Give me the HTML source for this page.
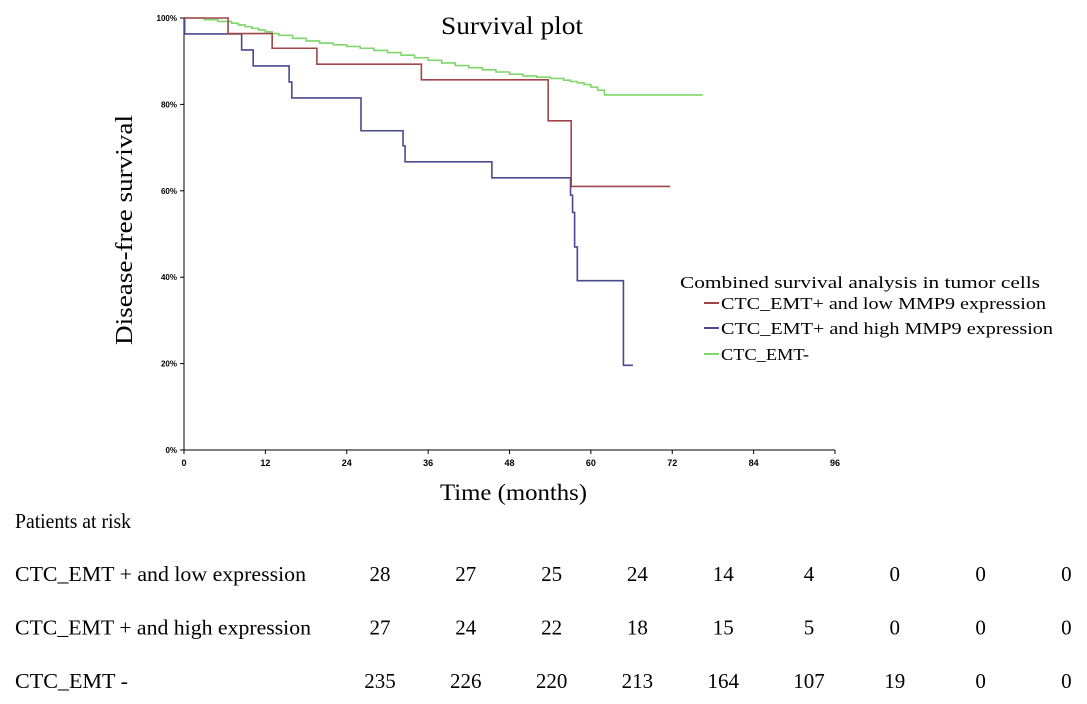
<!DOCTYPE html>
<html><head><meta charset="utf-8"><style>
body{margin:0;background:#fff;width:1087px;height:704px;overflow:hidden;font-family:"Liberation Serif",serif}
svg{position:absolute;left:0;top:0}
</style></head><body>
<svg width="1087" height="704">
<g id="axes"></g>
<g id="curves"></g>
<text x="441" y="34" font-size="25" textLength="142" lengthAdjust="spacingAndGlyphs">Survival plot</text>
<text x="440" y="500" font-size="23" textLength="147" lengthAdjust="spacingAndGlyphs">Time (months)</text>
<text transform="translate(132,345) rotate(-90)" font-size="24" textLength="230" lengthAdjust="spacingAndGlyphs">Disease-free survival</text>
<g font-size="17">
<text x="680" y="288" textLength="360" lengthAdjust="spacingAndGlyphs">Combined survival analysis in tumor cells</text>
<g><line x1="704" y1="303" x2="719" y2="303" stroke="#a0464a" stroke-width="2"/><text x="721" y="309" textLength="325" lengthAdjust="spacingAndGlyphs">CTC_EMT+ and low MMP9 expression</text></g>
<g><line x1="704" y1="328" x2="719" y2="328" stroke="#4a4a8e" stroke-width="2"/><text x="721" y="334" textLength="332" lengthAdjust="spacingAndGlyphs">CTC_EMT+ and high MMP9 expression</text></g>
<g><line x1="704" y1="354" x2="719" y2="354" stroke="#7fd66a" stroke-width="2"/><text x="721" y="360" textLength="88" lengthAdjust="spacingAndGlyphs">CTC_EMT-</text></g>
</g>
<g id="risk" font-size="21"></g>
</svg>
<script>
const xTicks=[0,12,24,36,48,60,72,84,96];
const yTicks=[0,20,40,60,80,100];
const lowT=[0,6.5,13,19.6,35,53.7,57.1,71.7];
const lowS=[100,96.4,93,89.3,85.7,76.2,61,61];
const highT=[0,0.1,8.5,10.2,15.5,15.9,26.1,32.3,32.6,45.4,57,57.3,57.6,58,64.8,66.2];
const highS=[100,96.3,92.6,88.9,85.2,81.5,73.9,70.4,66.7,63,59,55,47,39.2,19.6,19.6];
const negT=[0,3,5,7,8,9,10,11,12,13,14,16,18,20,22,24,26,28,30,32,34,36,38,40,42,44,46,48,50,52,54,56,57,58,59,60,61,62,76.5];
const negS=[100,99.6,99.2,98.8,98.4,98,97.6,97.2,96.8,96.4,96,95.3,94.7,94.2,93.8,93.4,93,92.5,92,91.4,90.8,90.2,89.6,89,88.5,88,87.5,87,86.6,86.3,86,85.6,85.3,85,84.6,84,83.3,82.2,82.2];
const riskRows=["CTC_EMT + and low expression","CTC_EMT + and high expression","CTC_EMT -"];
const riskLow=[28,27,25,24,14,4,0,0,0];
const riskHigh=[27,24,22,18,15,5,0,0,0];
const riskNeg=[235,226,220,213,164,107,19,0,0];
const rowWidths=[291,296,113];
const NS="http://www.w3.org/2000/svg";
const X=m=>184+m*(835-184)/96, Y=p=>450-p*4.32;
function mk(t,a,p){const e=document.createElementNS(NS,t);for(const k in a)e.setAttribute(k,a[k]);p.appendChild(e);return e;}
const ax=document.getElementById('axes');
const xl=mk('line',{x1:184,y1:450,x2:835,y2:450,stroke:'#000'},ax);


const yl=mk('line',{x1:184,y1:18,x2:184,y2:450,stroke:'#000'},ax);


xTicks.forEach(v=>{mk('line',{x1:X(v),y1:450,x2:X(v),y2:454,stroke:'#000'},ax);
const t=mk('text',{x:X(v),y:466,'font-size':9,'font-family':'Liberation Sans','font-weight':'bold','text-anchor':'middle'},ax);t.textContent=v;

});
yTicks.forEach(v=>{mk('line',{x1:180,y1:Y(v),x2:184,y2:Y(v),stroke:'#000'},ax);
const t=mk('text',{x:177,y:Y(v)+3,'font-size':8,'font-family':'Liberation Sans','font-weight':'bold','text-anchor':'end'},ax);t.textContent=v+'%';

});
const cv=document.getElementById('curves');
function step(T,S,col,name){let d='M'+X(T[0])+','+Y(S[0]);for(let i=1;i<T.length;i++){d+='H'+X(T[i])+'V'+Y(S[i]);}
const p=mk('path',{d:d,fill:'none',stroke:col,'stroke-width':1.6},cv);

}
step(negT,negS,'#7fd66a','curve-ctc-emt-neg');
step(highT,highS,'#4a4a8e','curve-high-mmp9');
step(lowT,lowS,'#a0464a','curve-low-mmp9');
const rk=document.getElementById('risk');
const h=mk('text',{x:15,y:528,textLength:116,lengthAdjust:'spacingAndGlyphs'},rk);h.textContent='Patients at risk';


[riskLow,riskHigh,riskNeg].forEach((row,r)=>{const y=581+r*53.5;
const l=mk('text',{x:15,y:y,textLength:rowWidths[r],lengthAdjust:'spacingAndGlyphs'},rk);l.textContent=riskRows[r];


row.forEach((v,i)=>{const t=mk('text',{x:380+i*85.8,y:y,'text-anchor':'middle'},rk);t.textContent=v;

});});
</script>
</body></html>
